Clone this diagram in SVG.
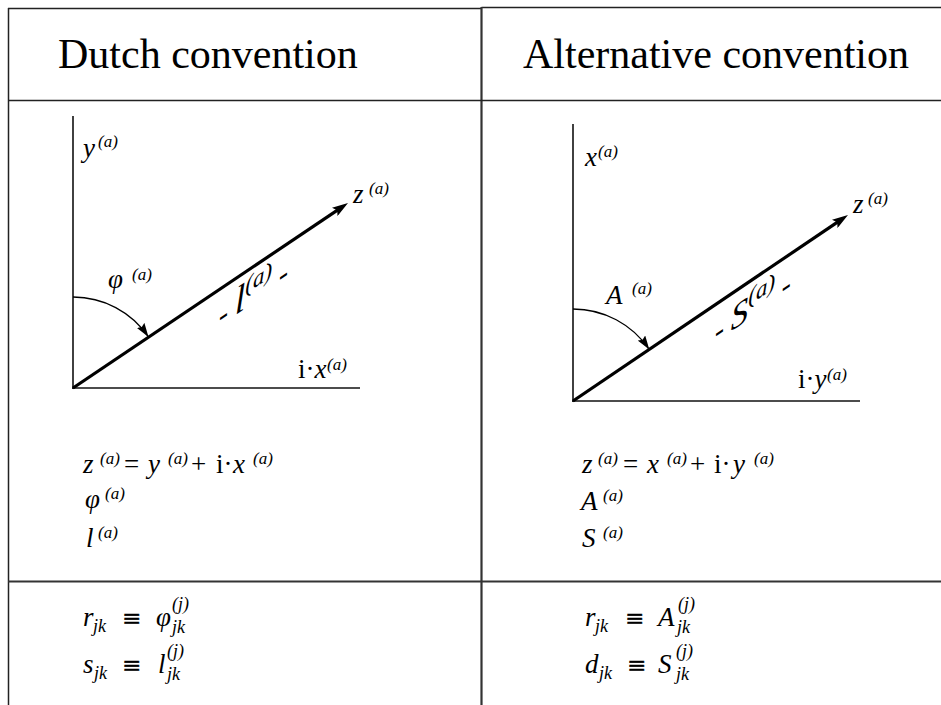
<svg xmlns="http://www.w3.org/2000/svg" width="941" height="705" viewBox="0 0 941 705">
<style>
.grid{stroke:#222;stroke-width:1.5;fill:none}
.grid2{stroke:#333;stroke-width:2.2;fill:none}
.axis{stroke:#111;stroke-width:1.6;fill:none}
.vec{stroke:#000;stroke-width:3.2;fill:none}
.arc{stroke:#000;stroke-width:1.3;fill:none}
.hd{font-family:"Liberation Serif","Times New Roman",serif;font-size:42px;fill:#000}
.it{font-family:"Liberation Serif","Times New Roman",serif;font-style:italic;font-size:27px;fill:#000}
.rm{font-family:"Liberation Serif","Times New Roman",serif;font-style:normal;font-size:27px;fill:#000}
.sp{font-family:"Liberation Serif","Times New Roman",serif;font-style:italic;font-size:17px;fill:#000}
.m{font-family:"Liberation Serif","DejaVu Serif",serif;font-style:italic;font-size:27px;fill:#000}
.mr{font-family:"DejaVu Serif","Liberation Serif",serif;font-style:normal;font-size:23px;fill:#000;stroke:#000;stroke-width:0.4}
.ms{font-family:"Liberation Serif","DejaVu Serif",serif;font-style:italic;font-size:18px;fill:#000}
.dash{font-style:normal;font-weight:bold}
</style>
<defs>
<marker id="headBig" markerUnits="userSpaceOnUse" markerWidth="18" markerHeight="10" refX="6" refY="5" orient="auto">
<path d="M0,0 L16,5 L0,10 L3,5 z" fill="#000"/>
</marker>
<marker id="headSmall" markerUnits="userSpaceOnUse" markerWidth="15" markerHeight="9" refX="14" refY="4.5" orient="auto">
<path d="M0,0 L14,4.5 L0,9 L2,4.5 z" fill="#000"/>
</marker>
</defs>

<g id="table">
<line class="grid" x1="8" y1="8.5" x2="481.5" y2="8.5" stroke="#555"/>
<line class="grid" x1="481.5" y1="7.5" x2="941" y2="7.5"/>
<line class="grid" x1="8.5" y1="8" x2="8.5" y2="705"/>
<line class="grid2" x1="481.5" y1="7" x2="481.5" y2="705"/>
<line class="grid" x1="8" y1="100.5" x2="941" y2="100.5"/>
<line class="grid2" x1="8" y1="581.5" x2="941" y2="581.5"/>
</g>

<g id="header-dutch">
<text class="hd" x="58" y="68">Dutch convention</text>
</g>
<g id="header-alt">
<text class="hd" x="523" y="68">Alternative convention</text>
</g>

<g id="diagram-dutch">
<line class="axis" x1="73" y1="116" x2="73" y2="389"/>
<line class="axis" x1="72" y1="388" x2="360" y2="388"/>
<text class="it" x="83" y="157">y<tspan class="sp" x="98" y="147">(a)</tspan></text>
<text class="it" x="353" y="203">z<tspan class="sp" x="369" y="194">(a)</tspan></text>
<text class="it" x="108" y="288">φ<tspan class="sp" x="132" y="280">(a)</tspan></text>
<text class="rm" x="298" y="378">i·<tspan class="it">x</tspan><tspan class="sp" x="327" y="370">(a)</tspan></text>
<text class="it" transform="translate(219,321) skewY(-34)" x="0" y="5" font-size="30px"><tspan class="dash">-</tspan> <tspan font-size="38px">l</tspan><tspan font-size="23px" dy="-14">(a)</tspan><tspan dy="14"> </tspan><tspan class="dash">-</tspan></text>
</g>

<g id="diagram-alt">
<line class="axis" x1="573" y1="124" x2="573" y2="402"/>
<line class="axis" x1="572" y1="401" x2="860" y2="401"/>
<text class="it" x="585" y="166">x<tspan class="sp" x="598" y="157">(a)</tspan></text>
<text class="it" x="853" y="213">z<tspan class="sp" x="868" y="204">(a)</tspan></text>
<text class="it" x="606" y="304">A<tspan class="sp" x="632" y="294">(a)</tspan></text>
<text class="rm" x="798" y="388">i·<tspan class="it">y</tspan><tspan class="sp" x="827" y="380">(a)</tspan></text>
<text class="it" transform="translate(715,337) skewY(-34)" x="0" y="5" font-size="30px"><tspan class="dash">-</tspan> <tspan font-size="35px">S</tspan><tspan font-size="23px" dy="-14">(a)</tspan><tspan dy="14"> </tspan><tspan class="dash">-</tspan></text>
</g>

<g id="connectors">
<line class="vec" x1="73" y1="388" x2="339.7" y2="208.6" marker-end="url(#headBig)"/>
<path class="arc" d="M73,297 A91,91 0 0 1 148.5,337" marker-end="url(#headSmall)"/>
<line class="vec" x1="573" y1="401" x2="839.7" y2="220.6" marker-end="url(#headBig)"/>
<path class="arc" d="M573,309 A92,92 0 0 1 649.3,349.6" marker-end="url(#headSmall)"/>
</g>

<g id="formulas-dutch">
<text class="it" x="83" y="473">z</text>
<text class="sp" x="100" y="464">(a)</text>
<text class="rm" x="124" y="473">=</text>
<text class="it" x="148" y="473">y</text>
<text class="sp" x="168" y="464">(a)</text>
<text class="rm" x="191" y="473">+</text>
<text class="rm" x="216" y="473">i·</text>
<text class="it" x="233" y="473">x</text>
<text class="sp" x="253" y="464">(a)</text>
<text class="it" x="85" y="508">φ</text>
<text class="sp" x="105" y="499">(a)</text>
<text class="it" x="86" y="547">l</text>
<text class="sp" x="98" y="538">(a)</text>
</g>

<g id="formulas-alt">
<text class="it" x="582" y="473">z</text>
<text class="sp" x="598" y="464">(a)</text>
<text class="rm" x="623" y="473">=</text>
<text class="it" x="647" y="473">x</text>
<text class="sp" x="667" y="464">(a)</text>
<text class="rm" x="690" y="473">+</text>
<text class="rm" x="714" y="473">i·</text>
<text class="it" x="733" y="473">y</text>
<text class="sp" x="754" y="464">(a)</text>
<text class="it" x="581" y="510">A</text>
<text class="sp" x="603" y="501">(a)</text>
<text class="it" x="582" y="547">S</text>
<text class="sp" x="603" y="538">(a)</text>
</g>

<g id="defs-dutch">
<text class="m" x="83" y="626">r</text>
<text class="ms" x="93" y="632">jk</text>
<text class="mr" x="122" y="626">≡</text>
<text class="m" x="156" y="626">φ</text>
<text class="ms" x="172" y="610">(j)</text>
<text class="ms" x="172" y="633">jk</text>
<text class="m" x="83" y="673">s</text>
<text class="ms" x="94" y="679">jk</text>
<text class="mr" x="122" y="673">≡</text>
<text class="m" x="158" y="673">l</text>
<text class="ms" x="167" y="657">(j)</text>
<text class="ms" x="167" y="680">jk</text>
</g>

<g id="defs-alt">
<text class="m" x="585" y="626">r</text>
<text class="ms" x="595" y="632">jk</text>
<text class="mr" x="625" y="626">≡</text>
<text class="m" x="658" y="626">A</text>
<text class="ms" x="678" y="610">(j)</text>
<text class="ms" x="677" y="633">jk</text>
<text class="m" x="585" y="673">d</text>
<text class="ms" x="599" y="679">jk</text>
<text class="mr" x="627" y="673">≡</text>
<text class="m" x="658" y="673">S</text>
<text class="ms" x="676" y="657">(j)</text>
<text class="ms" x="676" y="680">jk</text>
</g>
</svg>
